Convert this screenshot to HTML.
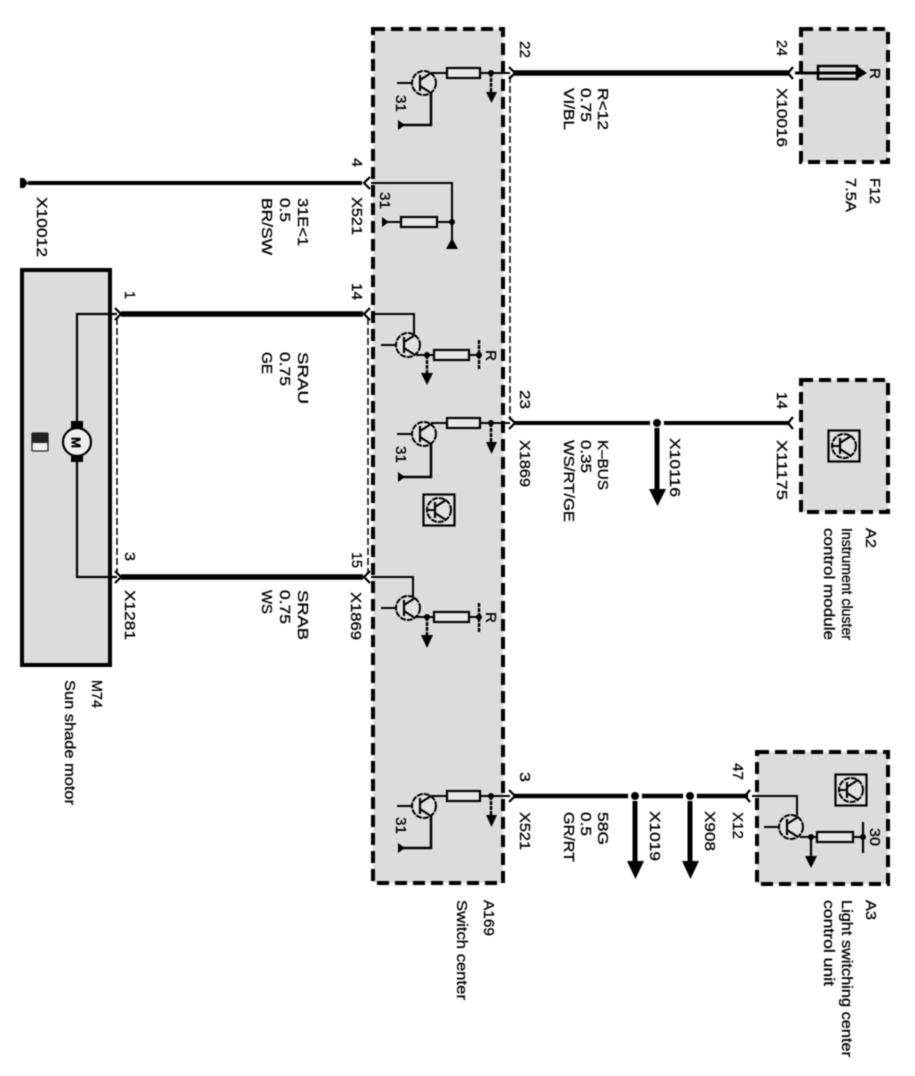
<!DOCTYPE html>
<html><head><meta charset="utf-8"><style>
html,body{margin:0;padding:0;background:#fff;width:915px;height:1076px;overflow:hidden}
svg{display:block;filter:blur(0.5px)}
text{font-family:"Liberation Sans",sans-serif;font-size:14.500px;fill:#000;stroke:#000;stroke-width:0.300px}
</style></head><body>
<svg width="915" height="1076" viewBox="0 0 915 1076" xmlns="http://www.w3.org/2000/svg">
<defs>
<g id="tr" fill="none" stroke="#000" stroke-width="2">
<circle r="12" fill="#e2e2e2" stroke-dasharray="6 1"/>
<path d="M-4,-8V8M-4,-3L7,-10M-4,3L7,10" stroke-width="2.200"/>
</g>
<g id="sym">
<rect x="-15.500" y="-15.500" width="31" height="31" fill="#e2e2e2" stroke="#000" stroke-width="2.200"/>
<use href="#tr"/>
<path d="M-12,0H-4" stroke="#000" stroke-width="2"/>
</g>
</defs>
<rect width="915" height="1076" fill="#fff"/>

<!-- boxes -->
<rect x="373" y="29" width="130" height="854" fill="#dcdcdc" stroke="#000" stroke-width="4" stroke-dasharray="12 6"/>
<rect x="801" y="29" width="87" height="133" fill="#dcdcdc" stroke="#000" stroke-width="4" stroke-dasharray="12 6"/>
<rect x="801" y="380" width="87" height="132" fill="#dcdcdc" stroke="#000" stroke-width="4" stroke-dasharray="12 6"/>
<rect x="757" y="752" width="131" height="132" fill="#dcdcdc" stroke="#000" stroke-width="4" stroke-dasharray="12 6"/>
<rect x="22" y="270" width="88" height="395" fill="#dcdcdc" stroke="#000" stroke-width="4"/>

<!-- thin dashed shield lines -->
<path d="M510,76V420" stroke="#000" stroke-width="1.500" stroke-dasharray="7 3" fill="none"/>
<path d="M368,318V574" stroke="#000" stroke-width="1.500" stroke-dasharray="7 3" fill="none"/>
<path d="M117,318V574" stroke="#000" stroke-width="1.500" stroke-dasharray="7 3" fill="none"/>

<!-- main wires -->
<g stroke="#000" fill="none">
<path d="M514,73H790" stroke-width="5.500"/>
<path d="M28,183H362" stroke-width="4"/>
<path d="M121,314H363" stroke-width="5.500"/>
<path d="M121,577H363" stroke-width="5.500"/>
<path d="M514,423H790" stroke-width="4"/>
<path d="M514,796H748" stroke-width="4.500"/>
</g>
<g fill="#000">
<circle cx="657" cy="423" r="7" fill="#fff"/><circle cx="635" cy="796" r="7" fill="#fff"/><circle cx="690" cy="796" r="7" fill="#fff"/>
<circle cx="657" cy="423" r="4"/><circle cx="635" cy="796" r="4"/><circle cx="690" cy="796" r="4"/>
<path d="M654.500,428H659.500V490H654.500ZM632.500,801H637.500V864H632.500ZM687.500,801H692.500V864H687.500Z"/>
<path d="M20,178L24,178L28,183L24,188L20,188Z"/>
<path d="M649,489H666L657.500,506Z"/>
<path d="M627,861H644L635.500,879Z"/>
<path d="M682,861H699L690.500,879Z"/>
</g>

<!-- connector chevrons -->
<g fill="none" stroke="#000" stroke-width="2.200">
<path d="M509,67L515,73L509,79"/>
<path d="M509,417L515,423L509,429"/>
<path d="M509,790L515,796L509,802"/>
<path d="M793,67L788,73L793,79"/>
<path d="M793,417L788,423L793,429"/>
<path d="M750,790L745,796L750,802"/>
<path d="M370,177L364,183L370,189"/>
<path d="M370,308L364,314L370,320"/>
<path d="M370,571L364,577L370,583"/>
<path d="M115,308L121,314L115,320"/>
<path d="M115,571L121,577L115,583"/>
</g>

<!-- A169 internal wiring -->
<g fill="none" stroke="#000" stroke-width="2">
<path d="M431,73H510M397,83H420"/>
<path d="M431,90V125H401" stroke-width="2.500"/>
<path d="M491,73V94" stroke-width="2.500" stroke-dasharray="4 1"/>
<path d="M371,183H452V240" stroke-width="2"/>
<path d="M386,222H452"/>
<path d="M371,314H414V334M381,345H404M416,355H479"/>
<path d="M427,355V375" stroke-width="2.500" stroke-dasharray="4 1"/>
<path d="M479,340V370" stroke-width="2.500" stroke-dasharray="4 1"/>
<path d="M431,423H510M397,434H420"/>
<path d="M431,441V477H401" stroke-width="2.500"/>
<path d="M491,423V444" stroke-width="2.500" stroke-dasharray="4 1"/>
<path d="M371,577H413V597M381,608H404M416,617H479"/>
<path d="M427,617V637" stroke-width="2.500" stroke-dasharray="4 1"/>
<path d="M479,603V633" stroke-width="2.500" stroke-dasharray="4 1"/>
<path d="M431,796H510M397,806H420"/>
<path d="M431,813V848H401" stroke-width="2.500"/>
<path d="M491,796V817" stroke-width="2.500" stroke-dasharray="4 1"/>
<path d="M752,796H797V816M764,827H787M800,837H863"/>
<path d="M811,837V858" stroke-width="2.200"/>
<path d="M863,822V853" stroke-width="2.200"/>
<path d="M117,314H77V426M77,458V577H117" stroke-width="2.200"/>
<path d="M795,73H858" stroke-width="3"/>
</g>

<!-- transistors -->
<use href="#tr" x="424" y="83"/>
<use href="#tr" x="408" y="345"/>
<use href="#tr" x="424" y="434"/>
<use href="#tr" x="408" y="608"/>
<use href="#tr" x="424" y="806"/>
<use href="#tr" x="791" y="827"/>
<use href="#sym" x="439" y="510"/>
<use href="#sym" x="851" y="790"/>
<use href="#sym" x="844" y="446"/>

<!-- resistors -->
<g fill="#e8e8e8" stroke="#000" stroke-width="2.200">
<rect x="447" y="68" width="33" height="10"/>
<rect x="401" y="217" width="36" height="10"/>
<rect x="434" y="350" width="35" height="10"/>
<rect x="447" y="418" width="33" height="10"/>
<rect x="434" y="612" width="35" height="10"/>
<rect x="447" y="791" width="33" height="10"/>
<rect x="817" y="832" width="36" height="10"/>
<rect x="818" y="66" width="39" height="13" fill="none" stroke-width="2.500"/>
</g>

<!-- dots, arrows, grounds -->
<g fill="#000">
<circle cx="491" cy="73" r="3"/><path d="M486,92H497L491.500,103Z"/>
<circle cx="491" cy="423" r="3"/><path d="M486,442H497L491.500,454Z"/>
<circle cx="491" cy="796" r="3"/><path d="M486,815H497L491.500,827Z"/>
<circle cx="427" cy="355" r="3"/><path d="M421,373H433L427,385Z"/>
<circle cx="427" cy="617" r="3"/><path d="M421,635H433L427,648Z"/>
<circle cx="811" cy="837" r="3"/><path d="M805,856H817L811,868Z"/>
<circle cx="479" cy="355" r="3"/><circle cx="479" cy="617" r="3"/><circle cx="863" cy="837" r="3"/>
<circle cx="452" cy="222" r="3"/>
<path d="M398,120V130L405,125Z"/>
<path d="M398,472V482L405,477Z"/>
<path d="M398,843V853L405,848Z"/>
<path d="M382,217V227L389,222Z"/>
<path d="M446,249H458L452,238Z"/>
<path d="M857,66L867,73L857,79Z"/>
</g>

<!-- motor symbol -->
<circle cx="77" cy="442" r="14" fill="#eee" stroke="#000" stroke-width="2.200"/>
<rect x="71" y="421" width="12" height="7" fill="#000"/>
<rect x="71" y="456" width="12" height="6" fill="#000"/>
<text transform="translate(71.500,437) rotate(90)" style="font-size:13px;font-weight:bold" textLength="11" lengthAdjust="spacingAndGlyphs">M</text>
<rect x="32" y="433" width="16" height="18" rx="1" fill="#eee" stroke="#222" stroke-width="1.300"/>
<rect x="32" y="433" width="16" height="10" fill="#222"/>

<!-- labels -->
<text transform="translate(520,41) rotate(90)" textLength="17" lengthAdjust="spacingAndGlyphs">22</text>
<text transform="translate(598,88) rotate(90)" textLength="42" lengthAdjust="spacingAndGlyphs">R&lt;12</text>
<text transform="translate(581,88) rotate(90)" textLength="34" lengthAdjust="spacingAndGlyphs">0.75</text>
<text transform="translate(564,88) rotate(90)" textLength="42" lengthAdjust="spacingAndGlyphs">VI/BL</text>
<text transform="translate(777,40) rotate(90)" textLength="16" lengthAdjust="spacingAndGlyphs">24</text>
<text transform="translate(777,88) rotate(90)" textLength="59" lengthAdjust="spacingAndGlyphs">X10016</text>
<text transform="translate(870,68) rotate(90)" textLength="11" lengthAdjust="spacingAndGlyphs">R</text>
<text transform="translate(870,178) rotate(90)" textLength="26" lengthAdjust="spacingAndGlyphs">F12</text>
<text transform="translate(846,178) rotate(90)" textLength="34" lengthAdjust="spacingAndGlyphs">7.5A</text>

<text transform="translate(352,158) rotate(90)" textLength="9" lengthAdjust="spacingAndGlyphs">4</text>
<text transform="translate(352,197) rotate(90)" textLength="38" lengthAdjust="spacingAndGlyphs">X521</text>
<text transform="translate(298,198) rotate(90)" textLength="48" lengthAdjust="spacingAndGlyphs">31E&lt;1</text>
<text transform="translate(280,198) rotate(90)" textLength="24" lengthAdjust="spacingAndGlyphs">0.5</text>
<text transform="translate(262,198) rotate(90)" textLength="57" lengthAdjust="spacingAndGlyphs">BR/SW</text>
<text transform="translate(37,197) rotate(90)" textLength="60" lengthAdjust="spacingAndGlyphs">X10012</text>
<text transform="translate(380,192) rotate(90)" textLength="17" lengthAdjust="spacingAndGlyphs">31</text>
<text transform="translate(396,95) rotate(90)" textLength="17" lengthAdjust="spacingAndGlyphs">31</text>

<text transform="translate(125,291) rotate(90)" textLength="8" lengthAdjust="spacingAndGlyphs">1</text>
<text transform="translate(352,283) rotate(90)" textLength="17" lengthAdjust="spacingAndGlyphs">14</text>
<text transform="translate(298,352) rotate(90)" textLength="52" lengthAdjust="spacingAndGlyphs">SRAU</text>
<text transform="translate(280,352) rotate(90)" textLength="34" lengthAdjust="spacingAndGlyphs">0.75</text>
<text transform="translate(262,352) rotate(90)" textLength="22" lengthAdjust="spacingAndGlyphs">GE</text>
<text transform="translate(486,350) rotate(90)" textLength="11" lengthAdjust="spacingAndGlyphs">R</text>

<text transform="translate(520,390) rotate(90)" textLength="19" lengthAdjust="spacingAndGlyphs">23</text>
<text transform="translate(520,440) rotate(90)" textLength="47" lengthAdjust="spacingAndGlyphs">X1869</text>
<text transform="translate(598,440) rotate(90)" textLength="50" lengthAdjust="spacingAndGlyphs">K–BUS</text>
<text transform="translate(581,440) rotate(90)" textLength="33" lengthAdjust="spacingAndGlyphs">0.35</text>
<text transform="translate(564,440) rotate(90)" textLength="82" lengthAdjust="spacingAndGlyphs">WS/RT/GE</text>
<text transform="translate(670,438) rotate(90)" textLength="59" lengthAdjust="spacingAndGlyphs">X10116</text>
<text transform="translate(777,392) rotate(90)" textLength="17" lengthAdjust="spacingAndGlyphs">14</text>
<text transform="translate(777,440) rotate(90)" textLength="60" lengthAdjust="spacingAndGlyphs">X11175</text>
<text transform="translate(396,446) rotate(90)" textLength="17" lengthAdjust="spacingAndGlyphs">31</text>
<text transform="translate(866,528) rotate(90)" textLength="20" lengthAdjust="spacingAndGlyphs">A2</text>
<text transform="translate(842,528) rotate(90)" textLength="112" lengthAdjust="spacingAndGlyphs">Instrument cluster</text>
<text transform="translate(824,528) rotate(90)" textLength="112" lengthAdjust="spacingAndGlyphs">control module</text>

<text transform="translate(125,552) rotate(90)" textLength="9" lengthAdjust="spacingAndGlyphs">3</text>
<text transform="translate(125,590) rotate(90)" textLength="50" lengthAdjust="spacingAndGlyphs">X1281</text>
<text transform="translate(352,552) rotate(90)" textLength="16" lengthAdjust="spacingAndGlyphs">15</text>
<text transform="translate(351,592) rotate(90)" textLength="48" lengthAdjust="spacingAndGlyphs">X1869</text>
<text transform="translate(298,590) rotate(90)" textLength="50" lengthAdjust="spacingAndGlyphs">SRAB</text>
<text transform="translate(280,590) rotate(90)" textLength="34" lengthAdjust="spacingAndGlyphs">0.75</text>
<text transform="translate(262,590) rotate(90)" textLength="24" lengthAdjust="spacingAndGlyphs">WS</text>
<text transform="translate(486,612) rotate(90)" textLength="11" lengthAdjust="spacingAndGlyphs">R</text>

<text transform="translate(92,680) rotate(90)" textLength="28" lengthAdjust="spacingAndGlyphs">M74</text>
<text transform="translate(65,680) rotate(90)" textLength="125" lengthAdjust="spacingAndGlyphs">Sun shade motor</text>
<text transform="translate(484,900) rotate(90)" textLength="36" lengthAdjust="spacingAndGlyphs">A169</text>
<text transform="translate(457,900) rotate(90)" textLength="100" lengthAdjust="spacingAndGlyphs">Switch center</text>

<text transform="translate(520,772) rotate(90)" textLength="10" lengthAdjust="spacingAndGlyphs">3</text>
<text transform="translate(520,812) rotate(90)" textLength="38" lengthAdjust="spacingAndGlyphs">X521</text>
<text transform="translate(598,812) rotate(90)" textLength="33" lengthAdjust="spacingAndGlyphs">58G</text>
<text transform="translate(581,812) rotate(90)" textLength="24" lengthAdjust="spacingAndGlyphs">0.5</text>
<text transform="translate(564,812) rotate(90)" textLength="50" lengthAdjust="spacingAndGlyphs">GR/RT</text>
<text transform="translate(650,811) rotate(90)" textLength="50" lengthAdjust="spacingAndGlyphs">X1019</text>
<text transform="translate(705,811) rotate(90)" textLength="40" lengthAdjust="spacingAndGlyphs">X908</text>
<text transform="translate(733,763) rotate(90)" textLength="17" lengthAdjust="spacingAndGlyphs">47</text>
<text transform="translate(733,812) rotate(90)" textLength="27" lengthAdjust="spacingAndGlyphs">X12</text>
<text transform="translate(870,828) rotate(90)" textLength="18" lengthAdjust="spacingAndGlyphs">30</text>
<text transform="translate(396,817) rotate(90)" textLength="17" lengthAdjust="spacingAndGlyphs">31</text>
<text transform="translate(866,900) rotate(90)" textLength="20" lengthAdjust="spacingAndGlyphs">A3</text>
<text transform="translate(842,900) rotate(90)" textLength="157" lengthAdjust="spacingAndGlyphs">Light switching center</text>
<text transform="translate(824,900) rotate(90)" textLength="86" lengthAdjust="spacingAndGlyphs">control unit</text>
</svg>
</body></html>
